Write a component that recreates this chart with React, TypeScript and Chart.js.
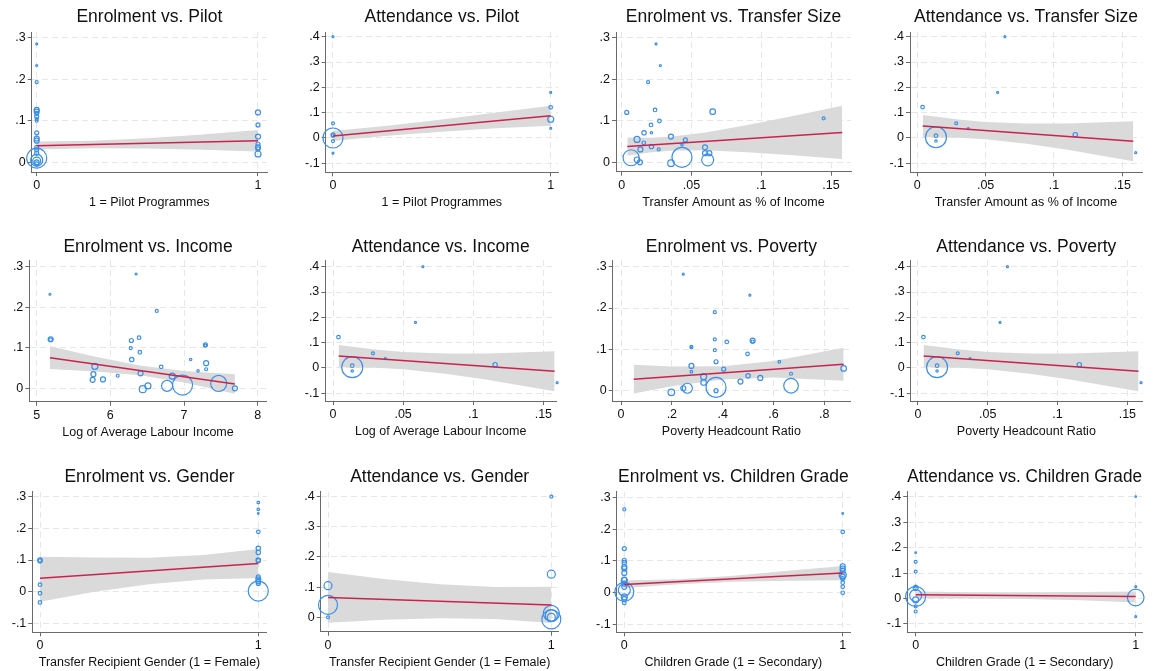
import React, { useEffect, useRef } from "react";
import { Chart, registerables } from "chart.js";
Chart.register(...registerables);

const FONT = "'Liberation Sans', Arial, Helvetica, sans-serif";
const BLUE = "#3b8fe8";
const RED = "#c8234f";
const BAND = "#dadada";
const GRID = "#e6e6e6";
const AXIS = "#6a6a6a";
const TEXT = "#111111";

// ---------- tick values ----------
const xTicksBinary = [0, 1];
const xTicksTransfer = [0, 0.05, 0.1, 0.15];
const xTicksIncome = [5, 6, 7, 8];
const xTicksPoverty = [0, 0.2, 0.4, 0.6, 0.8];
const yTicksEnrol = [0, 0.1, 0.2, 0.3];
const yTicksEnrolWide = [-0.1, 0, 0.1, 0.2, 0.3];
const yTicksAttend = [-0.1, 0, 0.1, 0.2, 0.3, 0.4];
const yTicksAttendPos = [0, 0.1, 0.2, 0.3, 0.4];

// ---------- Enrolment vs. Pilot ----------
const pilotEnrolX = [0, 0, 0, 0, 0, 0, 0, 0, 0, 0, 0, 0, 0, 0, 0, 0, 0, 0, 0, 0, 1, 1, 1, 1, 1, 1, 1];
const pilotEnrolY = [0.285, 0.233, 0.193, 0.126, 0.122, 0.118, 0.11, 0.104, 0.1, 0.071, 0.057, 0.052, 0.036, 0.03, 0.022, 0.01, 0.005, 0.003, 0.0, -0.004, 0.12, 0.09, 0.062, 0.044, 0.036, 0.032, 0.02];
const pilotEnrolW = [1, 1, 1.5, 2.5, 2.5, 2, 2, 1.5, 1.5, 2, 2.5, 2.5, 2, 2, 2, 10, 6, 4, 2.5, 2, 2.5, 2, 2.5, 2, 2.5, 2, 3];
const pilotEnrolFitX = [0, 1];
const pilotEnrolFitY = [0.04, 0.052];
const pilotEnrolBandX = [0, 0.25, 0.5, 0.75, 1];
const pilotEnrolBandLo = [0.031, 0.034, 0.033, 0.03, 0.026];
const pilotEnrolBandHi = [0.05, 0.052, 0.058, 0.067, 0.078];

// ---------- Attendance vs. Pilot ----------
const pilotAttendX = [0, 0, 0, 0, 0, 0, 0, 1, 1, 1, 1];
const pilotAttendY = [0.4, 0.058, 0.012, 0.01, -0.012, -0.06, 0.0, 0.18, 0.121, 0.074, 0.038];
const pilotAttendW = [1, 1.5, 2, 1.5, 1.5, 1, 10, 1, 1.8, 3, 1];
const pilotAttendFitX = [0, 1];
const pilotAttendFitY = [0.008, 0.088];
const pilotAttendBandX = [0, 0.25, 0.5, 0.75, 1];
const pilotAttendBandLo = [-0.012, 0.009, 0.025, 0.038, 0.048];
const pilotAttendBandHi = [0.028, 0.048, 0.073, 0.101, 0.127];

// ---------- Enrolment vs. Transfer Size ----------
const transferEnrolX = [0.0246, 0.0277, 0.0189, 0.0036, 0.0239, 0.0652, 0.027, 0.021, 0.1447, 0.016, 0.0213, 0.011, 0.0353, 0.0456, 0.0158, 0.0432, 0.0213, 0.0134, 0.0265, 0.0597, 0.0597, 0.0628, 0.0067, 0.011, 0.0131, 0.0353, 0.0432, 0.0616];
const transferEnrolY = [0.285, 0.233, 0.193, 0.12, 0.126, 0.122, 0.0995, 0.09, 0.106, 0.071, 0.071, 0.055, 0.062, 0.054, 0.047, 0.042, 0.038, 0.031, 0.031, 0.036, 0.022, 0.022, 0.011, 0.006, 0.0, -0.002, 0.012, 0.006];
const transferEnrolW = [1, 1, 1.5, 2, 1.8, 2.8, 1.8, 1.8, 1.5, 2.2, 1.2, 3, 2.5, 2, 1.8, 1.2, 2.2, 2.5, 1.5, 2.5, 2.5, 2.5, 8, 2.8, 2.5, 3.3, 10, 6];
const transferEnrolFitX = [0.004, 0.158];
const transferEnrolFitY = [0.038, 0.072];
const transferEnrolBandX = [0.004, 0.02, 0.035, 0.06, 0.09, 0.12, 0.158];
const transferEnrolBandLo = [0.016, 0.0236, 0.0281, 0.029, 0.0242, 0.0175, 0.008];
const transferEnrolBandHi = [0.06, 0.0594, 0.0615, 0.0718, 0.0898, 0.1097, 0.136];

// ---------- Attendance vs. Transfer Size / Income / Poverty ----------
const transferAttendX = [0.0641, 0.0588, 0.0039, 0.0285, 0.0373, 0.0137, 0.0137, 0.0137, 0.1156, 0.1598];
const transferAttendY = [0.4, 0.18, 0.122, 0.058, 0.037, 0.009, -0.012, 0.003, 0.013, -0.058];
const transferAttendW = [1, 1, 1.8, 1.5, 1, 1.8, 1.2, 10.5, 2.2, 1];
const transferAttendFitX = [0.004, 0.158];
const transferAttendFitY = [0.047, -0.013];
const transferAttendBandX = [0.004, 0.03, 0.05, 0.08, 0.11, 0.158];
const transferAttendBandLo = [0.003, 0.0009, -0.0049, -0.0226, -0.0463, -0.092];
const transferAttendBandHi = [0.091, 0.0729, 0.0631, 0.0574, 0.0577, 0.066];

// ---------- Enrolment vs. Income ----------
const incomeEnrolX = [5.18, 6.35, 6.63, 5.19, 5.19, 6.285, 6.39, 6.276, 6.4, 7.29, 7.29, 6.29, 7.09, 6.69, 7.3, 5.79, 7.3, 7.19, 5.77, 6.41, 6.1, 6.84, 5.76, 5.9, 6.44, 6.51, 6.77, 6.98, 7.47, 7.69];
const incomeEnrolY = [0.232, 0.282, 0.191, 0.121, 0.12, 0.118, 0.125, 0.099, 0.089, 0.107, 0.106, 0.071, 0.071, 0.053, 0.062, 0.054, 0.047, 0.043, 0.035, 0.037, 0.031, 0.03, 0.021, 0.022, -0.002, 0.006, 0.006, 0.008, 0.012, 0.0];
const incomeEnrolW = [1, 1, 1.5, 2.5, 1.8, 2, 1.8, 1.5, 1.8, 2, 1.3, 2.2, 1.2, 1.8, 2.5, 3, 1.5, 1.2, 2.5, 2.5, 1.5, 3, 2.5, 2.5, 3.5, 3, 5.5, 10, 8, 2.5];
const incomeEnrolFitX = [5.18, 7.69];
const incomeEnrolFitY = [0.0756, 0.0107];
const incomeEnrolBandX = [5.18, 5.8, 6.4, 7.0, 7.69];
const incomeEnrolBandLo = [0.0476, 0.0416, 0.0321, 0.0145, -0.0133];
const incomeEnrolBandHi = [0.1036, 0.0776, 0.0561, 0.0425, 0.0347];

// ---------- Enrolment vs. Poverty ----------
const povertyEnrolX = [0.245, 0.507, 0.369, 0.369, 0.416, 0.518, 0.518, 0.277, 0.277, 0.369, 0.498, 0.374, 0.623, 0.277, 0.404, 0.277, 0.669, 0.876, 0.325, 0.5, 0.548, 0.325, 0.47, 0.198, 0.245, 0.261, 0.374, 0.374, 0.669];
const povertyEnrolY = [0.282, 0.231, 0.19, 0.124, 0.118, 0.121, 0.119, 0.105, 0.107, 0.098, 0.089, 0.07, 0.07, 0.06, 0.052, 0.046, 0.041, 0.054, 0.034, 0.036, 0.031, 0.02, 0.022, -0.004, 0.006, 0.006, 0.008, 0.0, 0.012];
const povertyEnrolW = [1, 1, 1.5, 1.5, 1.8, 2.5, 1.5, 1.5, 1.2, 1.5, 1.8, 2, 1.3, 2.5, 2, 1.3, 1.5, 2.8, 3, 2.2, 2.5, 2.8, 2.5, 3.3, 2.5, 5, 10, 2, 7.3];
const povertyEnrolFitX = [0.05, 0.876];
const povertyEnrolFitY = [0.028, 0.064];
const povertyEnrolBandX = [0.05, 0.2, 0.4, 0.6, 0.876];
const povertyEnrolBandLo = [-0.007, 0.0105, 0.0273, 0.032, 0.024];
const povertyEnrolBandHi = [0.063, 0.0585, 0.0593, 0.072, 0.104];

// ---------- Enrolment vs. Gender ----------
const genderEnrolX = [0, 0, 0, 0, 0, 1, 1, 1, 1, 1, 1, 1, 1, 1, 1, 1, 1, 1];
const genderEnrolY = [0.1, 0.097, 0.022, -0.005, -0.034, 0.282, 0.26, 0.247, 0.189, 0.137, 0.124, 0.1, 0.098, 0.047, 0.039, 0.032, 0.026, 0.002];
const genderEnrolW = [2.2, 2, 1.8, 1.8, 1.8, 1.3, 1.3, 0.8, 1.8, 2.2, 2.2, 2.2, 2, 2, 2.5, 2.2, 2, 10];
const genderEnrolFitX = [0, 1];
const genderEnrolFitY = [0.042, 0.089];
const genderEnrolBandX = [0, 0.25, 0.5, 0.75, 1];
const genderEnrolBandLo = [-0.032, -0.0004, 0.0236, 0.0388, 0.043];
const genderEnrolBandHi = [0.11, 0.108, 0.1074, 0.1158, 0.135];

// ---------- Attendance vs. Gender ----------
const genderAttendX = [0, 0, 0, 1, 1, 1, 1, 1, 1];
const genderAttendY = [0.105, 0.041, 0.0, 0.4, 0.143, 0.013, 0.006, -0.007, 0.0];
const genderAttendW = [4, 9.5, 1.5, 1.5, 4, 8, 6, 9.5, 4];
const genderAttendFitX = [0, 1];
const genderAttendFitY = [0.066, 0.041];
const genderAttendBandX = [0, 0.25, 0.5, 0.75, 1];
const genderAttendBandLo = [-0.018, -0.0078, -0.0028, -0.006, -0.019];
const genderAttendBandHi = [0.15, 0.1274, 0.1098, 0.1006, 0.101];

// ---------- Enrolment vs. Children Grade ----------
const gradeEnrolX = [0, 0, 0, 0, 0, 0, 0, 0, 0, 0, 0, 0, 0, 0, 0, 0, 1, 1, 1, 1, 1, 1, 1, 1, 1, 1, 1];
const gradeEnrolY = [0.263, 0.139, 0.102, 0.095, 0.081, 0.076, 0.062, 0.041, 0.038, 0.028, 0.018, 0.002, 0.008, -0.014, -0.021, -0.033, 0.25, 0.192, 0.083, 0.076, 0.069, 0.055, 0.05, 0.044, 0.031, 0.018, -0.001];
const gradeEnrolW = [1.5, 2, 2, 2.2, 2.5, 2.5, 2.5, 2.5, 3, 2.5, 2.5, 9.5, 6, 3, 2.5, 1.8, 0.8, 1.8, 2.5, 2.5, 2.5, 3.5, 2.5, 2, 1.8, 1.8, 1.8];
const gradeEnrolFitX = [0, 1];
const gradeEnrolFitY = [0.025, 0.062];
const gradeEnrolBandX = [0, 0.25, 0.5, 0.75, 1];
const gradeEnrolBandLo = [0.014, 0.0264, 0.0337, 0.037, 0.039];
const gradeEnrolBandHi = [0.038, 0.0422, 0.0533, 0.0687, 0.084];

// ---------- Attendance vs. Children Grade ----------
const gradeAttendX = [0, 0, 0, 0, 0, 0, 0, 0, 0, 0, 1, 1, 1, 1];
const gradeAttendY = [0.18, 0.144, 0.106, 0.047, 0.041, 0.008, 0.012, -0.005, -0.031, -0.051, 0.4, 0.047, 0.004, -0.071];
const gradeAttendW = [0.8, 1.5, 1.5, 1.5, 2.5, 10, 6, 3, 1.5, 1.5, 0.8, 1, 8.3, 1];
const gradeAttendFitX = [0, 1];
const gradeAttendFitY = [0.0144, 0.008];
const gradeAttendBandX = [0, 0.25, 0.5, 0.75, 1];
const gradeAttendBandLo = [0.0014, 0.0006, -0.0022, -0.0067, -0.016];
const gradeAttendBandHi = [0.0274, 0.025, 0.0246, 0.0259, 0.028];

// ---------- layout ----------
const YW = 30;
const XH = 38;
const RP = 12;
const TITLE_SIZE = 17.5;
const TITLE_LH = TITLE_SIZE * 1.2;
const TICK_SIZE = 12.5;

type Box = { L: number; R: number; T: number; B: number; titleC: number };
type Spec = {
  title: string;
  xTitle: string;
  xs: number[]; ys: number[]; ws: number[];
  fitX: number[]; fitY: number[];
  bandX: number[]; bandLo: number[]; bandHi: number[];
  xTicks: number[]; yTicks: number[];
  xRange: [number, number]; yRange: [number, number];
  box: Box;
};

const ROW1 = { T: 32, titleC: 16.7 };
const ROW2 = { T: 260, titleC: 246.7 };
const ROW3 = { T: 491.7, titleC: 476.7 };

const SPECS: Spec[] = [
  {
    title: "Enrolment vs. Pilot", xTitle: "1 = Pilot Programmes",
    xs: pilotEnrolX, ys: pilotEnrolY, ws: pilotEnrolW,
    fitX: pilotEnrolFitX, fitY: pilotEnrolFitY,
    bandX: pilotEnrolBandX, bandLo: pilotEnrolBandLo, bandHi: pilotEnrolBandHi,
    xTicks: xTicksBinary, yTicks: yTicksEnrol,
    xRange: [-0.0226, 1.0407], yRange: [-0.0234, 0.3137],
    box: { L: 31.7, R: 267, B: 172, ...ROW1 },
  },
  {
    title: "Attendance vs. Pilot", xTitle: "1 = Pilot Programmes",
    xs: pilotAttendX, ys: pilotAttendY, ws: pilotAttendW,
    fitX: pilotAttendFitX, fitY: pilotAttendFitY,
    bandX: pilotAttendBandX, bandLo: pilotAttendBandLo, bandHi: pilotAttendBandHi,
    xTicks: xTicksBinary, yTicks: yTicksAttend,
    xRange: [-0.0335, 1.0335], yRange: [-0.1355, 0.4186],
    box: { L: 325.7, R: 558, B: 172.3, ...ROW1 },
  },
  {
    title: "Enrolment vs. Transfer Size", xTitle: "Transfer Amount as % of Income",
    xs: transferEnrolX, ys: transferEnrolY, ws: transferEnrolW,
    fitX: transferEnrolFitX, fitY: transferEnrolFitY,
    bandX: transferEnrolBandX, bandLo: transferEnrolBandLo, bandHi: transferEnrolBandHi,
    xTicks: xTicksTransfer, yTicks: yTicksEnrol,
    xRange: [-0.0041, 0.1643], yRange: [-0.0226, 0.3137],
    box: { L: 616, R: 851, B: 171.7, ...ROW1 },
  },
  {
    title: "Attendance vs. Transfer Size", xTitle: "Transfer Amount as % of Income",
    xs: transferAttendX, ys: transferAttendY, ws: transferAttendW,
    fitX: transferAttendFitX, fitY: transferAttendFitY,
    bandX: transferAttendBandX, bandLo: transferAttendBandLo, bandHi: transferAttendBandHi,
    xTicks: xTicksTransfer, yTicks: yTicksAttend,
    xRange: [-0.0053, 0.1644], yRange: [-0.1355, 0.4186],
    box: { L: 910, R: 1142, B: 172.3, ...ROW1 },
  },
  {
    title: "Enrolment vs. Income", xTitle: "Log of Average Labour Income",
    xs: incomeEnrolX, ys: incomeEnrolY, ws: incomeEnrolW,
    fitX: incomeEnrolFitX, fitY: incomeEnrolFitY,
    bandX: incomeEnrolBandX, bandLo: incomeEnrolBandLo, bandHi: incomeEnrolBandHi,
    xTicks: xTicksIncome, yTicks: yTicksEnrol,
    xRange: [4.9, 8.122], yRange: [-0.033, 0.3165],
    box: { L: 29.3, R: 266.7, B: 401.7, ...ROW2 },
  },
  {
    title: "Attendance vs. Income", xTitle: "Log of Average Labour Income",
    xs: transferAttendX, ys: transferAttendY, ws: transferAttendW,
    fitX: transferAttendFitX, fitY: transferAttendFitY,
    bandX: transferAttendBandX, bandLo: transferAttendBandLo, bandHi: transferAttendBandHi,
    xTicks: xTicksTransfer, yTicks: yTicksAttend,
    xRange: [-0.0055, 0.159], yRange: [-0.1304, 0.4265],
    box: { L: 325.3, R: 556, B: 401, ...ROW2 },
  },
  {
    title: "Enrolment vs. Poverty", xTitle: "Poverty Headcount Ratio",
    xs: povertyEnrolX, ys: povertyEnrolY, ws: povertyEnrolW,
    fitX: povertyEnrolFitX, fitY: povertyEnrolFitY,
    bandX: povertyEnrolBandX, bandLo: povertyEnrolBandLo, bandHi: povertyEnrolBandHi,
    xTicks: xTicksPoverty, yTicks: yTicksEnrol,
    xRange: [-0.0327, 0.901], yRange: [-0.0249, 0.3162],
    box: { L: 612.7, R: 850, B: 401, ...ROW2 },
  },
  {
    title: "Attendance vs. Poverty", xTitle: "Poverty Headcount Ratio",
    xs: transferAttendX, ys: transferAttendY, ws: transferAttendW,
    fitX: transferAttendFitX, fitY: transferAttendFitY,
    bandX: transferAttendBandX, bandLo: transferAttendBandLo, bandHi: transferAttendBandHi,
    xTicks: xTicksTransfer, yTicks: yTicksAttend,
    xRange: [-0.0052, 0.1605], yRange: [-0.1304, 0.4265],
    box: { L: 910.7, R: 1142, B: 401, ...ROW2 },
  },
  {
    title: "Enrolment vs. Gender", xTitle: "Transfer Recipient Gender (1 = Female)",
    xs: genderEnrolX, ys: genderEnrolY, ws: genderEnrolW,
    fitX: genderEnrolFitX, fitY: genderEnrolFitY,
    bandX: genderEnrolBandX, bandLo: genderEnrolBandLo, bandHi: genderEnrolBandHi,
    xTicks: xTicksBinary, yTicks: yTicksEnrolWide,
    xRange: [-0.0353, 1.0385], yRange: [-0.1284, 0.3158],
    box: { L: 32.3, R: 266.7, B: 632.3, ...ROW3 },
  },
  {
    title: "Attendance vs. Gender", xTitle: "Transfer Recipient Gender (1 = Female)",
    xs: genderAttendX, ys: genderAttendY, ws: genderAttendW,
    fitX: genderAttendFitX, fitY: genderAttendFitY,
    bandX: genderAttendBandX, bandLo: genderAttendBandLo, bandHi: genderAttendBandHi,
    xTicks: xTicksBinary, yTicks: yTicksAttendPos,
    xRange: [-0.0327, 1.033], yRange: [-0.0478, 0.4166],
    box: { L: 320.7, R: 558.7, B: 631.7, ...ROW3 },
  },
  {
    title: "Enrolment vs. Children Grade", xTitle: "Children Grade (1 = Secondary)",
    xs: gradeEnrolX, ys: gradeEnrolY, ws: gradeEnrolW,
    fitX: gradeEnrolFitX, fitY: gradeEnrolFitY,
    bandX: gradeEnrolBandX, bandLo: gradeEnrolBandLo, bandHi: gradeEnrolBandHi,
    xTicks: xTicksBinary, yTicks: yTicksEnrolWide,
    xRange: [-0.0348, 1.0334], yRange: [-0.126, 0.319],
    box: { L: 616.7, R: 850, B: 632.3, ...ROW3 },
  },
  {
    title: "Attendance vs. Children Grade", xTitle: "Children Grade (1 = Secondary)",
    xs: gradeAttendX, ys: gradeAttendY, ws: gradeAttendW,
    fitX: gradeAttendFitX, fitY: gradeAttendFitY,
    bandX: gradeAttendBandX, bandLo: gradeAttendBandLo, bandHi: gradeAttendBandHi,
    xTicks: xTicksBinary, yTicks: yTicksAttend,
    xRange: [-0.038, 1.0286], yRange: [-0.1326, 0.4196],
    box: { L: 907.3, R: 1142, B: 632.3, ...ROW3 },
  },
];

function fmtTick(v: number): string {
  if (Math.abs(v) < 1e-9) return "0";
  const s = String(+v.toFixed(4));
  return s.replace(/^(-?)0\./, "$1.");
}

function Panel({ spec }: { spec: Spec }) {
  const ref = useRef<HTMLCanvasElement>(null);
  const { L, R, T, B, titleC } = spec.box;
  const left = Math.floor(L) - YW;
  const titleTop = titleC - TITLE_LH / 2;
  const top = Math.floor(titleTop);
  const width = Math.ceil(R + RP - left);
  const height = Math.ceil(B + XH - top);

  useEffect(() => {
    if (!ref.current) return;
    const yw = L - left;
    const padTop = titleTop - top;
    const tb = T - titleTop - TITLE_LH;
    const padRight = left + width - R;
    const padBottom = top + height - (B + XH);
    const tickFont = { family: FONT, size: TICK_SIZE };

    const chart = new Chart(ref.current, {
      type: "bubble",
      data: {
        datasets: [
          {
            type: "line",
            data: spec.fitX.map((x, i) => ({ x, y: spec.fitY[i] })),
            borderColor: RED,
            borderWidth: 1.5,
            pointRadius: 0,
            fill: false,
          } as any,
          {
            type: "bubble",
            data: spec.xs.map((x, i) => ({ x, y: spec.ys[i], r: spec.ws[i] })),
            borderColor: BLUE,
            backgroundColor: "rgba(0,0,0,0)",
            borderWidth: 1.2,
            hoverRadius: 0,
            clip: false,
          } as any,
          {
            type: "line",
            data: spec.bandX.map((x, i) => ({ x, y: spec.bandLo[i] })),
            borderColor: "rgba(0,0,0,0)",
            borderWidth: 0,
            pointRadius: 0,
            fill: false,
          } as any,
          {
            type: "line",
            data: spec.bandX.map((x, i) => ({ x, y: spec.bandHi[i] })),
            borderColor: "rgba(0,0,0,0)",
            borderWidth: 0,
            pointRadius: 0,
            backgroundColor: BAND,
            fill: "-1",
          } as any,
        ],
      },
      options: {
        animation: false,
        responsive: false,
        devicePixelRatio: 1,
        events: [],
        layout: {
          autoPadding: false,
          padding: { top: padTop, right: padRight, bottom: padBottom, left: 0 },
        },
        plugins: {
          legend: { display: false },
          tooltip: { enabled: false },
          title: {
            display: true,
            text: spec.title,
            fullSize: false,
            color: TEXT,
            font: { family: FONT, size: TITLE_SIZE, weight: "normal", lineHeight: 1.2 },
            padding: { top: 0, bottom: tb },
          },
        },
        scales: {
          x: {
            type: "linear",
            min: spec.xRange[0],
            max: spec.xRange[1],
            afterFit: (s: any) => { s.height = XH; },
            afterBuildTicks: (s: any) => { s.ticks = spec.xTicks.map((v) => ({ value: v })); },
            ticks: {
              callback: (v: any) => fmtTick(Number(v)),
              font: tickFont,
              color: TEXT,
              padding: 2,
              maxRotation: 0,
              autoSkip: false,
            },
            grid: { color: GRID, tickColor: AXIS, tickLength: 4, lineWidth: 1, tickBorderDash: [] },
            border: { display: true, color: AXIS, width: 1, dash: [6, 4] },
            title: {
              display: true,
              text: spec.xTitle,
              color: TEXT,
              font: { family: FONT, size: TICK_SIZE, lineHeight: 1.2 },
              padding: 0,
            },
          },
          y: {
            type: "linear",
            min: spec.yRange[0],
            max: spec.yRange[1],
            afterFit: (s: any) => { s.width = yw; },
            afterBuildTicks: (s: any) => { s.ticks = spec.yTicks.map((v) => ({ value: v })); },
            ticks: {
              callback: (v: any) => fmtTick(Number(v)),
              font: tickFont,
              color: TEXT,
              padding: 2,
              autoSkip: false,
            },
            grid: { color: GRID, tickColor: AXIS, tickLength: 4, lineWidth: 1, tickBorderDash: [] },
            border: { display: true, color: AXIS, width: 1, dash: [6, 4] },
          },
        },
      } as any,
    });
    return () => chart.destroy();
  }, []);

  return (
    <canvas
      ref={ref}
      width={width}
      height={height}
      style={{ position: "absolute", left, top, width, height, display: "block" }}
    />
  );
}

export default function App() {
  return (
    <div style={{ position: "absolute", left: 0, top: 0, width: 1153, height: 671, background: "#ffffff", overflow: "hidden" }}>
      {SPECS.map((s, i) => (
        <Panel key={i} spec={s} />
      ))}
    </div>
  );
}
